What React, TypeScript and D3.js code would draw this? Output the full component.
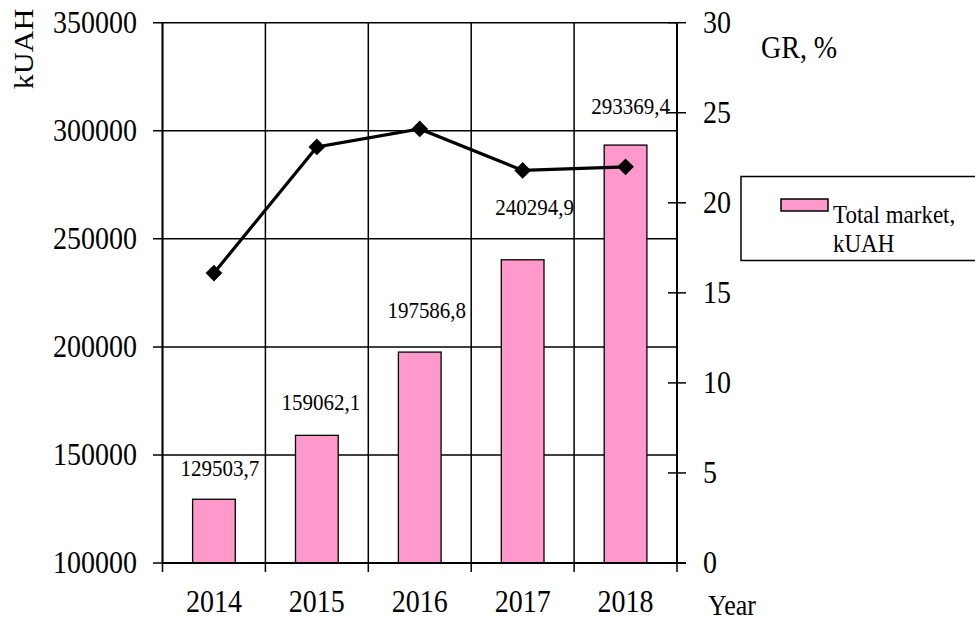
import React from "react";
import * as d3 from "d3";

const years = ["2014", "2015", "2016", "2017", "2018"];
const totalMarket = [129503.7, 159062.1, 197586.8, 240294.9, 293369.4];
const totalMarketLabels = ["129503,7", "159062,1", "197586,8", "240294,9", "293369,4"];
const growthRate = [16.1, 23.1, 24.1, 21.8, 22.0];
const leftTicks = [100000, 150000, 200000, 250000, 300000, 350000];
const rightTicks = [0, 5, 10, 15, 20, 25, 30];

// manual label nudges (layout only), [dx, dy from bar top to baseline]
const labelNudges: [number, number][] = [
  [6, -23],
  [4, -25],
  [7, -34],
  [12, -45],
  [5, -31],
];

const W = 975;
const H = 623;
const left = 162.5;
const right = 677;
const top = 22.7;
const bottom = 563;
const FONT = "'Liberation Serif', 'Times New Roman', serif";
const PINK = "#FF99CC";
const SY = 1.13;

function T(props: {
  x: number;
  y: number;
  size: number;
  anchor?: string;
  mid?: boolean;
  children: React.ReactNode;
}) {
  const { x, y, size, anchor, mid, children } = props;
  return (
    <text
      transform={`translate(${x},${y}) scale(1,${SY})`}
      dy={mid ? "0.33em" : undefined}
      textAnchor={anchor || "start"}
      fontSize={size}
    >
      {children}
    </text>
  );
}

export default function App() {
  const x = d3.scaleBand<string>().domain(years).range([left, right]).padding(0);
  const yL = d3.scaleLinear().domain([100000, 350000]).range([bottom, top]);
  const yR = d3.scaleLinear().domain([0, 30]).range([bottom, top]);
  const bw = x.bandwidth() * 0.415;
  const cx = (y: string) => (x(y) as number) + x.bandwidth() / 2;

  const line = d3
    .line<number>()
    .x((_, i) => cx(years[i]))
    .y((d) => yR(d));
  const diamond = d3.symbol().type(d3.symbolSquare).size(140)() as string;

  const boundaries = years.map((y) => x(y) as number).concat([right]);

  return (
    <svg
      width={W}
      height={H}
      style={{ position: "absolute", left: 0, top: 0, background: "#fff" }}
      fontFamily={FONT}
    >
      <rect x={0} y={0} width={W} height={H} fill="#fff" />
      {leftTicks.map((t) => (
        <line key={"h" + t} x1={153} x2={right} y1={yL(t)} y2={yL(t)} stroke="#000" strokeWidth={1.5} />
      ))}
      {boundaries.map((b, i) => (
        <line key={"v" + i} x1={b} x2={b} y1={top} y2={bottom + 9} stroke="#000" strokeWidth={1.5} />
      ))}
      {totalMarket.map((v, i) => (
        <rect
          key={"b" + i}
          x={cx(years[i]) - bw / 2}
          y={yL(v)}
          width={bw}
          height={bottom - yL(v)}
          fill={PINK}
          stroke="#000"
          strokeWidth={1.3}
        />
      ))}
      <line x1={left} x2={left} y1={top} y2={bottom} stroke="#000" strokeWidth={1.8} />
      {leftTicks.map((t) => (
        <T key={"lt" + t} x={137} y={yL(t)} size={28} anchor="end" mid>
          {t}
        </T>
      ))}
      <line x1={right} x2={right} y1={top} y2={bottom} stroke="#000" strokeWidth={1.8} />
      <line x1={left} x2={right + 9} y1={bottom} y2={bottom} stroke="#000" strokeWidth={1.8} />
      {rightTicks.map((t) => (
        <g key={"rt" + t}>
          <line x1={right - 9} x2={right + 9} y1={yR(t)} y2={yR(t)} stroke="#000" strokeWidth={1.5} />
          <T x={703} y={yR(t)} size={28} mid>
            {t}
          </T>
        </g>
      ))}
      {years.map((y) => (
        <T key={"xl" + y} x={cx(y)} y={612} size={28} anchor="middle">
          {y}
        </T>
      ))}
      {totalMarket.map((v, i) => (
        <T
          key={"dl" + i}
          x={cx(years[i]) + labelNudges[i][0]}
          y={yL(v) + labelNudges[i][1]}
          size={21}
          anchor="middle"
        >
          {totalMarketLabels[i]}
        </T>
      ))}
      <path d={line(growthRate) as string} fill="none" stroke="#000" strokeWidth={3.2} />
      {growthRate.map((v, i) => (
        <path
          key={"m" + i}
          d={diamond}
          transform={`translate(${cx(years[i])},${yR(v)}) rotate(45)`}
          fill="#000"
        />
      ))}
      <text transform="translate(33,49) rotate(-90) scale(1.08,1)" textAnchor="middle" fontSize={28}>
        kUAH
      </text>
      <T x={761} y={58} size={28}>
        GR, %
      </T>
      <T x={708} y={615} size={26}>
        Year
      </T>
      <rect x={741} y={176.5} width={260} height={84} fill="#fff" stroke="#000" strokeWidth={1.5} />
      <rect x={781} y={199} width={47} height={12} fill={PINK} stroke="#000" strokeWidth={1.5} />
      <T x={833} y={223} size={23}>
        Total market,
      </T>
      <T x={833} y={252} size={23}>
        kUAH
      </T>
    </svg>
  );
}
